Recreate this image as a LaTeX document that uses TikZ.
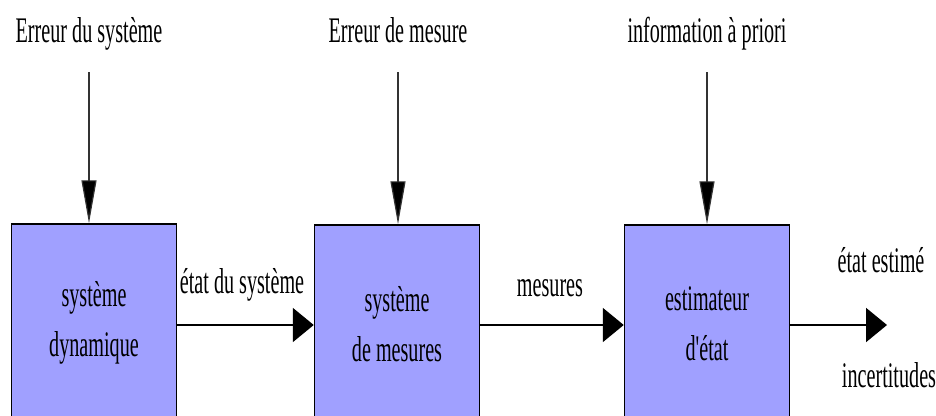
\documentclass[tikz,border=0pt]{standalone}
\usepackage{fontspec}
\setmainfont{Liberation Serif}
\usetikzlibrary{arrows.meta,positioning}
\definecolor{bleubloc}{RGB}{160,160,255}
\newcommand\etroit[1]{\scalebox{0.56}[1]{#1}}

\begin{document}
\begin{tikzpicture}
	[x=1pt,y=-1pt,
	every node/.style={font=\fontsize{36}{50}\selectfont,inner sep=0pt},
	bloc/.style={draw,line width=1.5pt,fill=bleubloc,minimum width=165pt,minimum height=198pt,align=center},
	fleche/.style={line width=2pt,-{Triangle[length=21pt,width=34pt]}},
	entree/.style={line width=1.2pt,draw=black!80,-{Triangle[length=43pt,width=15pt,fill=black]}}]
	\useasboundingbox (0,0) rectangle (936,415);
	\clip (0,0) rectangle (936,415);
	% blocs
	\node[bloc] (dyn) at (94,323) {\etroit{système}\\\etroit{dynamique}};
	\node[bloc] (mes) at (397,324) {\etroit{système}\\\etroit{de mesures}};
	\node[bloc] (est) at (707,324) {\etroit{estimateur}\\\etroit{d\textquotesingle état}};
	% entrees
	\node[anchor=base] (err1) at (89,42) {\etroit{Erreur du système}};
	\node[anchor=base] (err2) at (398,42) {\etroit{Erreur de mesure}};
	\node[anchor=base] (info) at (707,42) {\etroit{information à priori}};
	\draw[entree] ([yshift=-30pt]err1.base) -- (err1.base |- dyn.north);
	\draw[entree] ([yshift=-30pt]err2.base) -- (err2.base |- mes.north);
	\draw[entree] ([yshift=-30pt]info.base) -- (info.base |- est.north);
	% liaisons
	\coordinate (sortie) at (887,325);
	\draw[fleche] (dyn.east |- 0,325) -- (mes.west |- 0,325);
	\draw[fleche] (mes.east |- 0,325) -- (est.west |- 0,325);
	\draw[fleche] (est.east |- sortie) -- (sortie);
	\node[anchor=base] (etat) at (242,293) {\etroit{état du système}};
	\node[anchor=base] (mesures) at (550,296) {\etroit{mesures}};
	\node[anchor=base] (estime) at (881,272) {\etroit{état estimé}};
	\node[anchor=base] (incert) at (889,387) {\etroit{incertitudes}};
\end{tikzpicture}
\end{document}
